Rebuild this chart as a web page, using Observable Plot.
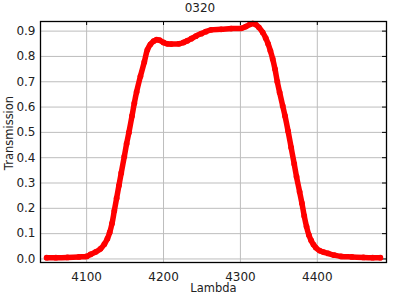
<!DOCTYPE html>
<html>
<head>
<meta charset="utf-8">
<script src="https://cdn.jsdelivr.net/npm/d3@7"></script>
<script src="https://cdn.jsdelivr.net/npm/@observablehq/plot@0.6"></script>
<style>
  html, body { margin: 0; padding: 0; background: #fff; }
  #wrap { position: relative; width: 400px; height: 300px; }
  #title { width: 400px; height: 16px; line-height: 16px; text-align: center;
           font-family: "DejaVu Sans", sans-serif; font-size: 12px; color: #222; }
  #ylabel { position: absolute; left: 9px; top: 132.5px; white-space: nowrap;
            transform: translate(-50%, -50%) rotate(-90deg);
            font-family: "DejaVu Sans", sans-serif; font-size: 11.5px; color: #222; line-height: 14px; }
</style>
</head>
<body>
<div id="wrap">
<div id="title"></div>
<div id="chart"></div>
<div id="ylabel"></div>
</div>
<script>
const chartTitle = "0320";
const xLabel = "Lambda";
const yLabel = "Transmission";
const xTicks = [4100, 4200, 4300, 4400];
const yTicks = [0, 0.1, 0.2, 0.3, 0.4, 0.5, 0.6, 0.7, 0.8, 0.9];

const lambda = [4048, 4060, 4075, 4090, 4100, 4105, 4112, 4118, 4123, 4127,
  4130, 4133, 4136, 4139, 4142, 4145, 4149, 4152, 4155, 4159,
  4162, 4165, 4170, 4175, 4179, 4183, 4187, 4191, 4195, 4200,
  4205, 4210, 4220, 4226, 4231, 4236, 4242, 4249, 4255, 4262,
  4275, 4288, 4301, 4307, 4312, 4316, 4320, 4324, 4329, 4333,
  4336, 4339, 4342, 4345, 4348, 4351, 4355, 4358, 4362, 4366,
  4370, 4373, 4377, 4380, 4383, 4386, 4389, 4392, 4395, 4398,
  4403, 4408, 4414, 4422, 4431, 4445, 4460, 4472, 4482];
const transmission = [0.005, 0.005, 0.006, 0.008, 0.010, 0.018, 0.028, 0.040, 0.058, 0.080,
  0.105, 0.140, 0.190, 0.240, 0.290, 0.340, 0.405, 0.455, 0.500, 0.565,
  0.615, 0.660, 0.722, 0.778, 0.826, 0.848, 0.860, 0.866, 0.864, 0.855,
  0.850, 0.849, 0.850, 0.855, 0.862, 0.870, 0.880, 0.890, 0.898, 0.905,
  0.907, 0.910, 0.911, 0.918, 0.926, 0.930, 0.926, 0.915, 0.895, 0.872,
  0.850, 0.822, 0.790, 0.750, 0.700, 0.658, 0.605, 0.565, 0.505, 0.440,
  0.375, 0.325, 0.265, 0.220, 0.170, 0.128, 0.095, 0.073, 0.057, 0.045,
  0.033, 0.027, 0.022, 0.015, 0.010, 0.008, 0.006, 0.005, 0.005];

const data = lambda.map((x, i) => ({x, y: transmission[i]}));

document.getElementById("title").textContent = chartTitle;
document.getElementById("ylabel").textContent = yLabel;

const W = 400, H = 284, mT = 5, mB = 38, mL = 40, mR = 14;
const innerH = H - mT - mB, innerW = W - mL - mR;

const chart = Plot.plot({
  width: W, height: H,
  marginTop: mT, marginBottom: mB, marginLeft: mL, marginRight: mR,
  style: {fontFamily: "DejaVu Sans, sans-serif", fontSize: "12px", color: "#222", background: "#fff"},
  x: {domain: [4040, 4490]},
  y: {domain: [-0.014, 0.938]},
  marks: [
    Plot.gridX(xTicks, {stroke: "#bdbdbd", strokeOpacity: 1, strokeWidth: 1}),
    Plot.gridY(yTicks, {stroke: "#bdbdbd", strokeOpacity: 1, strokeWidth: 1}),
    Plot.axisX(xTicks, {tickSize: 0, tickPadding: 9.5, label: null, tickFormat: d => String(d)}),
    Plot.axisY(yTicks, {tickSize: 0, tickPadding: 5, label: null, tickFormat: d3.format(".1f")}),
    Plot.tickX(xTicks, {x: d => d, stroke: "black", insetBottom: innerH - 4}),
    Plot.tickY(yTicks, {y: d => d, stroke: "black", insetLeft: innerW - 4}),
    Plot.line(data, {x: "x", y: "y", stroke: "#f00", strokeWidth: 5.5, curve: "catmull-rom"}),
    Plot.dot(data, {x: "x", y: "y", r: 2.9, fill: "#f00", stroke: "none"}),
    Plot.frame({stroke: "black", strokeWidth: 1.3}),
    Plot.text([xLabel], {frameAnchor: "bottom", dy: 29, fontSize: 11.5, fill: "#222"})
  ]
});
document.getElementById("chart").appendChild(chart);
</script>
</body>
</html>
